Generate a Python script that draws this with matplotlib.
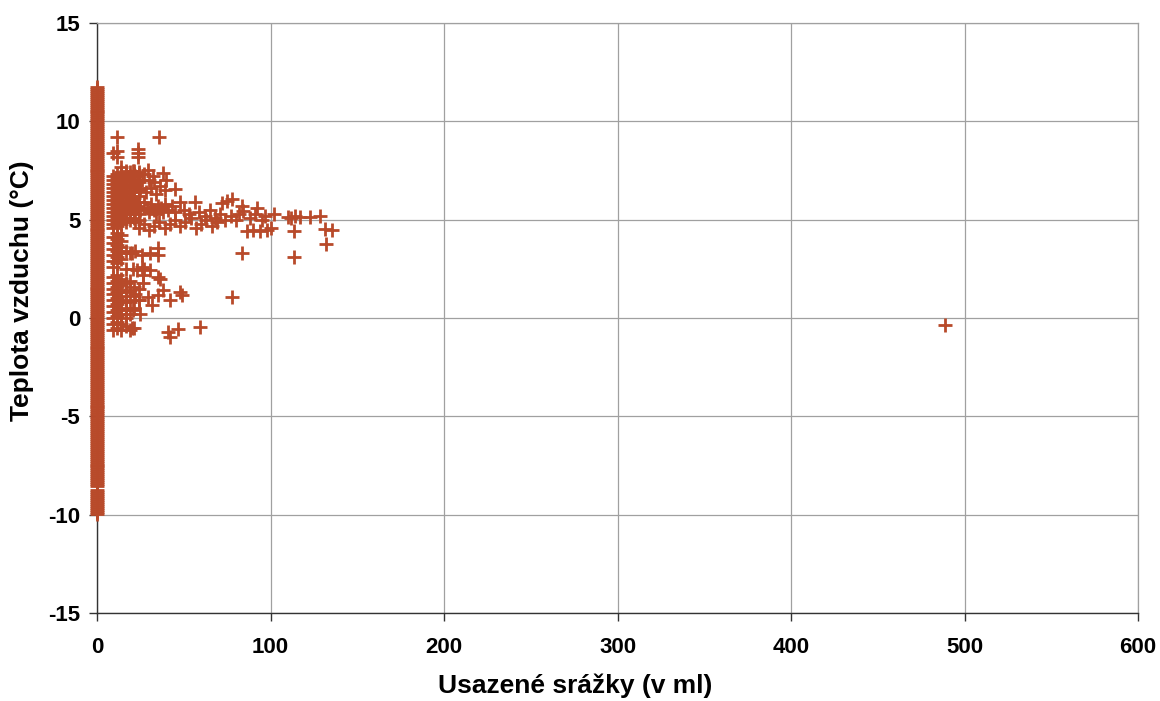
import matplotlib
matplotlib.use("Agg")
import matplotlib.pyplot as plt

# ---- data ----
# readings with zero settled precipitation (x = 0), dense band
temp_zero = [
    -9.95, -9.85, -9.75, -9.65, -9.55, -9.45, -9.35, -9.25, -9.15, -9.05, -8.95,
    -8.85, -8.75, -8.55, -8.45, -8.35, -8.25, -8.15, -8.05, -7.95, -7.85, -7.75,
    -7.65, -7.55, -7.45, -7.35, -7.25, -7.15, -7.05, -6.95, -6.85, -6.75, -6.65,
    -6.55, -6.45, -6.35, -6.25, -6.15, -6.05, -5.95, -5.85, -5.75, -5.65, -5.55,
    -5.45, -5.35, -5.25, -5.15, -5.05, -4.95, -4.85, -4.75, -4.65, -4.55, -4.45,
    -4.35, -4.25, -4.15, -4.05, -3.95, -3.85, -3.75, -3.65, -3.55, -3.45, -3.35,
    -3.25, -3.15, -3.05, -2.95, -2.85, -2.75, -2.65, -2.55, -2.45, -2.35, -2.25,
    -2.15, -2.05, -1.95, -1.85, -1.75, -1.65, -1.55, -1.45, -1.35, -1.25, -1.15,
    -1.05, -0.95, -0.85, -0.75, -0.65, -0.55, -0.45, -0.35, -0.25, -0.15, -0.05,
    0.05, 0.15, 0.25, 0.35, 0.45, 0.55, 0.65, 0.75, 0.85, 0.95, 1.05, 1.15,
    1.25, 1.35, 1.45, 1.55, 1.65, 1.75, 1.85, 1.95, 2.05, 2.15, 2.25, 2.35,
    2.45, 2.55, 2.65, 2.75, 2.85, 2.95, 3.05, 3.15, 3.25, 3.35, 3.45, 3.55,
    3.65, 3.75, 3.85, 3.95, 4.05, 4.15, 4.25, 4.35, 4.45, 4.55, 4.65, 4.75,
    4.85, 4.95, 5.05, 5.15, 5.25, 5.35, 5.45, 5.55, 5.65, 5.75, 5.85, 5.95,
    6.05, 6.15, 6.25, 6.35, 6.45, 6.55, 6.65, 6.75, 6.85, 6.95, 7.05, 7.15,
    7.25, 7.35, 7.45, 7.55, 7.65, 7.75, 7.85, 7.95, 8.05, 8.15, 8.25, 8.35,
    8.45, 8.55, 8.65, 8.75, 8.85, 8.95, 9.05, 9.15, 9.25, 9.35, 9.45, 9.55,
    9.65, 9.75, 9.85, 9.95, 10.05, 10.15, 10.25, 10.35, 10.45, 10.55, 10.65,
    10.75, 10.85, 10.95, 11.05, 11.15, 11.25, 11.35, 11.45, 11.55, 11.65, 11.75,
]

# dense columns of small precipitation amounts
col_precip = [9, 11.5, 14, 16.5, 19, 21.5, 24]
col_temps = [
    [-0.6, -0.3, 0.0, 0.3, 0.6, 0.9, 1.2, 1.5, 1.8, 2.1, 2.6, 2.9, 3.2, 3.5, 3.8,
     4.1, 4.6, 4.8, 5.0, 5.2, 5.4, 5.6, 5.8, 6.0, 6.2, 6.4, 6.6, 6.8, 7.0, 7.2, 8.4],
    [-0.5, -0.2, 0.1, 0.4, 0.7, 1.0, 1.3, 1.6, 1.9, 2.2, 2.8, 3.1, 3.4, 3.7, 4.0,
     4.3, 4.7, 4.9, 5.1, 5.3, 5.5, 5.7, 5.9, 6.1, 6.3, 6.5, 6.7, 6.9, 7.1, 7.3,
     8.2, 8.5, 9.2],
    [-0.6, -0.3, 0.2, 0.5, 0.8, 1.1, 1.4, 1.7, 2.0, 3.0, 3.3, 3.6, 3.9, 4.2, 4.8,
     5.0, 5.2, 5.4, 5.6, 5.8, 6.0, 6.2, 6.4, 6.6, 6.8, 7.0, 7.2, 7.4, 7.7],
    [-0.4, 0.0, 0.4, 0.9, 1.3, 1.8, 2.5, 3.4, 4.9, 5.1, 5.3, 5.5, 5.7, 5.9, 6.1,
     6.3, 6.5, 6.7, 6.9, 7.1, 7.3, 7.5],
    [-0.6, 0.2, 0.8, 1.4, 1.9, 3.3, 5.0, 5.3, 5.5, 5.7, 5.9, 6.2, 6.4, 6.6, 6.8,
     7.0, 7.2, 7.4],
    [-0.5, 0.5, 1.1, 1.6, 5.1, 5.4, 5.6, 5.8, 6.1, 6.4, 6.7, 7.0, 7.3, 7.5],
    [0.9, 1.5, 5.0, 5.3, 5.6, 5.9, 6.2, 6.5, 6.9, 7.3],
]

# scattered readings
scatter_precip = [
    21, 22, 23, 24, 25, 26, 27, 28, 29.6, 30, 31, 32, 33, 34, 36.3, 38, 39, 45, 40,
    21, 23, 25, 27, 29, 31, 33, 35, 37, 39, 41, 43, 45, 30, 34, 38,
    22, 24, 27, 30, 33, 36, 39, 42, 45, 48, 51, 54, 57, 60, 63, 66, 69,
    47.8, 50, 53, 56.5, 59, 62, 65, 68, 71, 74, 77, 80, 82,
    72, 74.8, 77.6, 83.4, 84.3, 88, 91, 92, 95, 97, 102, 110, 112, 114, 117, 122.5, 128.5,
    86.3, 90, 94, 98, 100, 113.5, 131.4, 135.3, 132, 113.5, 83.7,
    23.8, 23.8, 23.8, 35.9,
    20, 22, 25.8, 30.5, 35.3, 35.3, 25.8, 26.7, 35.3, 22.9, 30.5,
    21, 27, 36.3, 38.2, 35.3, 31.5, 42, 47.8, 48.8, 26.7, 29.6, 22, 24, 21, 25,
    41, 42, 46.7, 59.4, 77.6, 20, 489,
]
scatter_temp = [
    7.5, 7.2, 6.9, 7.4, 6.6, 7.0, 7.3, 6.4, 7.55, 7.0, 6.6, 7.2, 6.9, 6.3, 6.7, 7.35, 6.5, 6.55, 7.0,
    6.0, 5.7, 5.5, 5.9, 5.6, 5.8, 5.5, 5.7, 5.6, 5.8, 5.5, 5.7, 5.4, 5.4, 5.3, 5.4,
    4.9, 4.6, 4.8, 4.5, 4.7, 4.9, 4.6, 4.8, 5.0, 4.7, 4.9, 5.1, 4.6, 4.8, 5.0, 4.7, 4.9,
    5.9, 5.5, 5.3, 5.9, 5.4, 5.2, 5.5, 5.1, 5.3, 5.0, 5.2, 5.0, 5.3,
    5.85, 5.95, 6.05, 5.7, 5.45, 5.1, 5.3, 5.6, 5.0, 5.2, 5.3, 5.15, 5.1, 5.2, 5.15, 5.15, 5.2,
    4.4, 4.5, 4.4, 4.5, 4.6, 4.4, 4.55, 4.5, 3.75, 3.12, 3.3,
    8.6, 8.37, 8.2, 9.2,
    3.3, 3.4, 3.2, 3.3, 3.55, 3.2, 2.6, 2.2, 2.1, 2.45, 2.45,
    2.5, 2.5, 2.0, 1.42, 1.17, 0.66, 0.92, 1.34, 1.17, 1.76, 1.08, 1.2, 0.9, 0.4, 0.2,
    -0.7, -0.95, -0.55, -0.44, 1.08, -0.5, -0.35,
]

x_ticks = [0, 100, 200, 300, 400, 500, 600]
y_ticks = [-15, -10, -5, 0, 5, 10, 15]
x_label = "Usazené srážky (v ml)"
y_label = "Teplota vzduchu (°C)"

# ---- assemble ----
xs = [0.0] * len(temp_zero)
ys = list(temp_zero)
for px, temps in zip(col_precip, col_temps):
    xs += [px] * len(temps)
    ys += temps
xs += scatter_precip
ys += scatter_temp

color = "#B84A2A"

plt.rcParams["font.family"] = ["Liberation Sans", "DejaVu Sans"]
plt.rcParams["axes.unicode_minus"] = False
W, H = 1160, 701
fig = plt.figure(figsize=(W / 100, H / 100), dpi=100)
ax = fig.add_axes([97 / W, 1 - 613 / H, (1138 - 97) / W, (613 - 23) / H])

ax.plot(xs, ys, linestyle="none", marker="+", markersize=9.5, markeredgewidth=2.0,
        color=color, clip_on=False, zorder=3)

ax.set_xlim(0, 600)
ax.set_ylim(-15, 15)
ax.set_xticks(x_ticks)
ax.set_yticks(y_ticks)
ax.grid(True, color="#a0a0a0", linewidth=0.9)
ax.set_axisbelow(True)
for side in ("top", "right"):
    ax.spines[side].set_color("#a0a0a0")
    ax.spines[side].set_linewidth(0.9)
for side in ("left", "bottom"):
    ax.spines[side].set_color("#333333")
    ax.spines[side].set_linewidth(1.0)
ax.tick_params(axis="both", direction="out", length=6, width=1, color="#333333",
               labelsize=16)
ax.tick_params(axis="x", pad=11)
ax.tick_params(axis="y", pad=6)
for lab in ax.get_xticklabels() + ax.get_yticklabels():
    lab.set_fontweight("bold")

fig.text(575 / W, 1 - 693 / H, x_label, ha="center", va="baseline",
         fontsize=19, fontweight="bold")
fig.text(22 / W, 1 - 291 / H, y_label, ha="center", va="center", rotation=90,
         fontsize=19, fontweight="bold")

fig.savefig("out.png", dpi=100)
